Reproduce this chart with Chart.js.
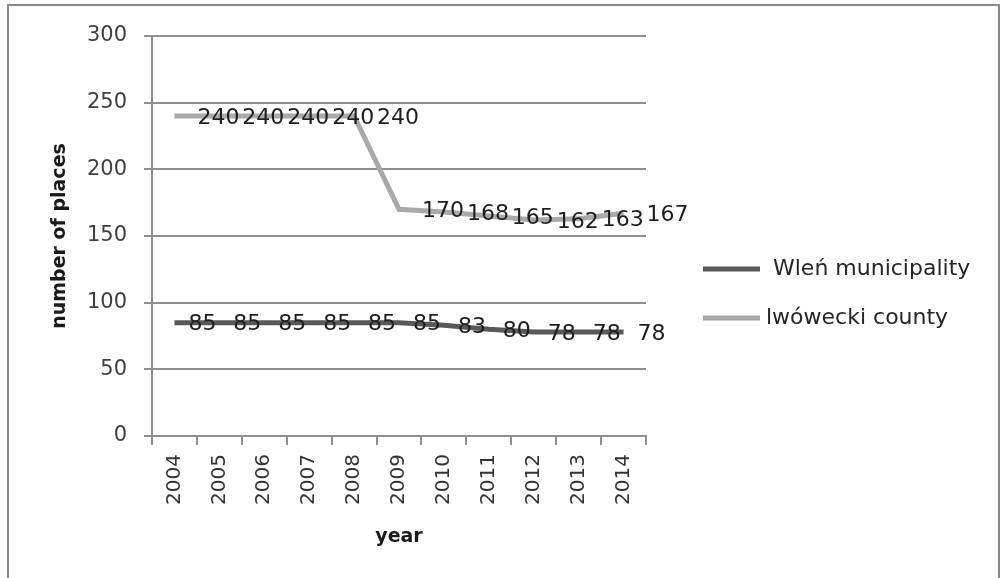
<!DOCTYPE html>
<html>
<head>
<meta charset="utf-8">
<script src="https://cdn.jsdelivr.net/npm/chart.js@4/dist/chart.umd.min.js"></script>
<style>
  html, body { margin: 0; padding: 0; background: #fff; }
  #wrap { position: relative; width: 1002px; height: 578px; }
</style>
</head>
<body>
<div id="wrap"><canvas id="placesChart"></canvas></div>
<script>
  // data
  const years = ['2004', '2005', '2006', '2007', '2008', '2009', '2010', '2011', '2012', '2013', '2014'];
  const wlenPlaces = [85, 85, 85, 85, 85, 85, 83, 80, 78, 78, 78];
  const countyPlaces = [240, 240, 240, 240, 240, 170, 168, 165, 162, 163, 167];
  const seriesNames = ['Wleń municipality', 'lwówecki county'];
  const yMin = 0, yMax = 300, yStep = 50;

  const FONT = "'DejaVu Sans', sans-serif";
  const darkLine = '#595959';
  const lightLine = '#a9a9a9';
  const gridColor = '#8f8f8f';

  // outer frame of the picture
  const framePlugin = {
    id: 'frame',
    beforeDraw(chart) {
      const ctx = chart.ctx;
      ctx.save();
      ctx.strokeStyle = '#8a8a8a';
      ctx.lineWidth = 2;
      ctx.strokeRect(8, 5, 991, 600);
      ctx.restore();
    }
  };

  // value labels to the right of every point
  const valueLabels = {
    id: 'valueLabels',
    afterDatasetsDraw(chart) {
      const ctx = chart.ctx;
      const gaps = [14, 23];
      ctx.save();
      ctx.font = '22px ' + FONT;
      ctx.fillStyle = '#1e1e1e';
      ctx.textAlign = 'left';
      ctx.textBaseline = 'middle';
      chart.data.datasets.forEach((ds, di) => {
        const meta = chart.getDatasetMeta(di);
        meta.data.forEach((pt, i) => {
          ctx.fillText(String(ds.data[i]), pt.x + gaps[di], pt.y + 2);
        });
      });
      ctx.restore();
    }
  };

  // legend on the right, Excel style
  const sideLegend = {
    id: 'sideLegend',
    afterDraw(chart) {
      const ctx = chart.ctx;
      const rows = [{ y: 269, tx: 773 }, { y: 318, tx: 766 }];
      ctx.save();
      chart.data.datasets.forEach((ds, di) => {
        const r = rows[di];
        ctx.strokeStyle = ds.borderColor;
        ctx.lineWidth = 5;
        ctx.beginPath();
        ctx.moveTo(703, r.y);
        ctx.lineTo(760, r.y);
        ctx.stroke();
        ctx.font = '22px ' + FONT;
        ctx.fillStyle = '#262626';
        ctx.textAlign = 'left';
        ctx.textBaseline = 'middle';
        ctx.fillText(ds.label, r.tx, r.y);
      });
      ctx.restore();
    }
  };

  var ctx = document.getElementById('placesChart').getContext('2d');
  new Chart(ctx, {
    type: 'line',
    data: {
      labels: years,
      datasets: [{
        label: seriesNames[0],
        data: wlenPlaces,
        borderColor: darkLine,
        backgroundColor: darkLine,
        borderWidth: 5,
        pointRadius: 0,
        tension: 0
      }, {
        label: seriesNames[1],
        data: countyPlaces,
        borderColor: lightLine,
        backgroundColor: lightLine,
        borderWidth: 5,
        pointRadius: 0,
        tension: 0
      }]
    },
    options: {
      responsive: true,
      maintainAspectRatio: false,
      animation: false,
      layout: { padding: { left: 0, right: 356, top: 36, bottom: 0 } },
      scales: {
        x: {
          offset: true,
          afterFit: s => { s.height = 142; },
          grid: { offset: true, drawOnChartArea: false, drawTicks: true, tickLength: 9, color: gridColor, lineWidth: 2 },
          border: { color: gridColor, width: 2 },
          ticks: {
            minRotation: 90, maxRotation: 90, padding: 9,
            color: '#333', font: { family: FONT, size: 20 }
          },
          title: {
            display: true, text: 'year', color: '#1a1a1a',
            font: { family: FONT, size: 19, weight: 'bold' },
            padding: { top: 0, bottom: 30 }
          }
        },
        y: {
          min: yMin, max: yMax,
          afterFit: s => { s.width = 152; },
          grid: { color: gridColor, lineWidth: 2, tickLength: 8 },
          border: { color: gridColor, width: 2 },
          ticks: {
            stepSize: yStep, padding: 17,
            color: '#404040', font: { family: FONT, size: 21 }
          },
          title: {
            display: true, text: 'number of places', color: '#1a1a1a',
            font: { family: FONT, size: 19, weight: 'bold' },
            padding: { top: 49, bottom: 0 }
          }
        }
      },
      plugins: {
        legend: { display: false },
        tooltip: { enabled: false }
      }
    },
    plugins: [framePlugin, valueLabels, sideLegend]
  });
</script>
</body>
</html>
